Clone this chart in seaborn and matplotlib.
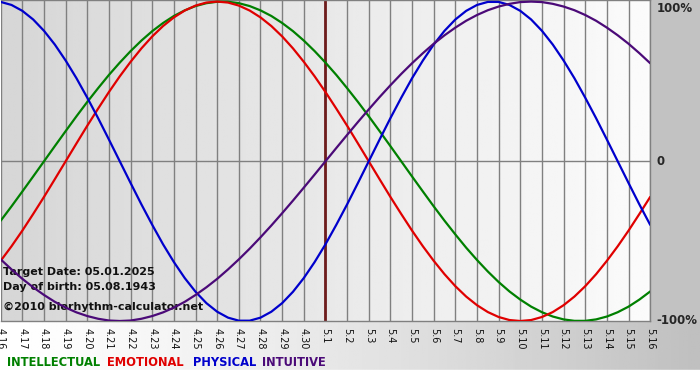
import numpy as np
import pandas as pd
import matplotlib
matplotlib.use('Agg')
import matplotlib.pyplot as plt
import seaborn as sns

# days shown on the x axis (April 16 .. May 16)
day_labels = ['4.16', '4.17', '4.18', '4.19', '4.20', '4.21', '4.22', '4.23', '4.24', '4.25',
              '4.26', '4.27', '4.28', '4.29', '4.30', '5.1', '5.2', '5.3', '5.4', '5.5',
              '5.6', '5.7', '5.8', '5.9', '5.10', '5.11', '5.12', '5.13', '5.14', '5.15', '5.16']
target_label = '5.1'

# cycle values in [-1, 1], every half day
intellectual = [-0.372, -0.282, -0.189, -0.095, 0.0, 0.095, 0.189, 0.282, 0.372, 0.458,
                0.541, 0.618, 0.690, 0.756, 0.815, 0.866, 0.910, 0.945, 0.972, 0.990,
                0.999, 0.999, 0.990, 0.972, 0.945, 0.910, 0.866, 0.815, 0.756, 0.690,
                0.618, 0.541, 0.458, 0.372, 0.282, 0.189, 0.095, 0.0, -0.095, -0.189,
                -0.282, -0.372, -0.458, -0.541, -0.618, -0.690, -0.756, -0.815, -0.866, -0.910,
                -0.945, -0.972, -0.990, -0.999, -0.999, -0.990, -0.972, -0.945, -0.910, -0.866,
                -0.815]
emotional = [-0.623, -0.532, -0.434, -0.330, -0.223, -0.112, 0.0, 0.112, 0.223, 0.330,
             0.434, 0.532, 0.623, 0.707, 0.782, 0.847, 0.901, 0.944, 0.975, 0.994,
             1.0, 0.994, 0.975, 0.944, 0.901, 0.847, 0.782, 0.707, 0.623, 0.532,
             0.434, 0.330, 0.223, 0.112, 0.0, -0.112, -0.223, -0.330, -0.434, -0.532,
             -0.623, -0.707, -0.782, -0.847, -0.901, -0.944, -0.975, -0.994, -1.0, -0.994,
             -0.975, -0.944, -0.901, -0.847, -0.782, -0.707, -0.623, -0.532, -0.434, -0.330,
             -0.223]
physical = [0.998, 0.979, 0.942, 0.888, 0.817, 0.731, 0.631, 0.520, 0.398, 0.270,
            0.136, 0.0, -0.136, -0.270, -0.398, -0.520, -0.631, -0.731, -0.817, -0.888,
            -0.942, -0.979, -0.998, -0.998, -0.979, -0.942, -0.888, -0.817, -0.731, -0.631,
            -0.520, -0.398, -0.270, -0.136, 0.0, 0.136, 0.270, 0.398, 0.520, 0.631,
            0.731, 0.817, 0.888, 0.942, 0.979, 0.998, 0.998, 0.979, 0.942, 0.888,
            0.817, 0.731, 0.631, 0.520, 0.398, 0.270, 0.136, 0.0, -0.136, -0.270,
            -0.398]
intuitive = [-0.614, -0.677, -0.736, -0.789, -0.837, -0.880, -0.916, -0.946, -0.969, -0.986,
             -0.997, -1.0, -0.997, -0.986, -0.969, -0.946, -0.916, -0.880, -0.837, -0.789,
             -0.736, -0.677, -0.614, -0.547, -0.476, -0.402, -0.325, -0.246, -0.165, -0.083,
             0.0, 0.083, 0.165, 0.246, 0.325, 0.402, 0.476, 0.547, 0.614, 0.677,
             0.736, 0.789, 0.837, 0.880, 0.916, 0.946, 0.969, 0.986, 0.997, 1.0,
             0.997, 0.986, 0.969, 0.946, 0.916, 0.880, 0.837, 0.789, 0.736, 0.677,
             0.614]

cycle_names = ['INTELLECTUAL', 'EMOTIONAL', 'PHYSICAL', 'INTUITIVE']
cycle_colors = ['#008000', '#e00000', '#0000cc', '#4b0a78']

info_lines = ['Target Date: 05.01.2025', 'Day of birth: 05.08.1943', '\u00a92010 biorhythm-calculator.net']

sns.set_style('white')
plt.rcParams['font.family'] = ['DejaVu Sans']

W, H = 700, 380
fig = plt.figure(figsize=(W / 100, H / 100), dpi=100)

# figure background: horizontal white -> gray gradient, white strip at the very bottom
bg = fig.add_axes([0, 0, 1, 1], zorder=-5)
grad = np.linspace(0, 1, 256) ** 1.3
bg.imshow(np.tile(1.0 - 0.25 * grad, (2, 1)), cmap='gray', vmin=0, vmax=1,
          extent=[0, 1, 10 / H, 1], aspect='auto')
bg.add_patch(plt.Rectangle((0, 0), 1, 10 / H, color='white'))
bg.set_xlim(0, 1)
bg.set_ylim(0, 1)
bg.axis('off')

# right margin solid gray
fig.patches.append(plt.Rectangle((651 / W, 1 - 321 / H), 1 - 651 / W, 321 / H,
                                 transform=fig.transFigure, color='#c2c2c2', zorder=-4))

ax = fig.add_axes([0.7 / W, 1 - 321 / H, 649.5 / W, 321 / H])
ax.set_facecolor('none')

n = len(day_labels)
days = np.arange(n)
half_days = np.arange(0, n - 0.75, 0.5)
ax.set_xlim(0, n - 1)
ax.set_ylim(-1, 1.01)

# plot area gradient: darker left, lighter right
ax.imshow(np.tile(np.linspace(0.84, 0.985, 256), (2, 1)), cmap='gray', vmin=0, vmax=1,
          extent=[0, n - 1, -1, 1.01], aspect='auto', zorder=0)

for d in days:
    ax.axvline(d, color='#808080', lw=1, zorder=1)
ax.axhline(0, color='#808080', lw=1, zorder=1)
ax.axvline(day_labels.index(target_label), color='#6e1c1c', lw=2, zorder=2)

# info text inside the plot, under the curves
for txt, ypx in zip(info_lines, [272, 287, 307]):
    ax.text(3 / W, 1 - ypx / H, txt, transform=fig.transFigure, ha='left', va='center',
            fontsize=8, fontweight='bold', color='#111111', zorder=2.5)

df = pd.DataFrame({
    'day': np.tile(half_days, 4),
    'value': intellectual + emotional + physical + intuitive,
    'cycle': np.repeat(cycle_names, len(half_days)),
})
sns.lineplot(data=df, x='day', y='value', hue='cycle', hue_order=cycle_names,
             palette=dict(zip(cycle_names, cycle_colors)), linewidth=1.6,
             legend=False, ax=ax, zorder=3)

ax.set_xticks(days)
ax.set_xticklabels(day_labels, rotation=270, fontsize=7, color='#111111')
ax.tick_params(axis='x', length=3, width=1, color='#808080', pad=2)
ax.set_yticks([])
ax.set_xlabel('')
ax.set_ylabel('')
for side in ['top', 'bottom', 'right']:
    ax.spines[side].set_color('#808080')
    ax.spines[side].set_linewidth(1)
ax.spines['left'].set_visible(False)

# right side percentage labels
ytr = ax.get_yaxis_transform()
ax.text(1.01, 1.0, '100%', transform=ytr, ha='left', va='top', fontsize=8.5,
        fontweight='bold', clip_on=False)
ax.text(1.01, 0.0, '0', transform=ytr, ha='left', va='center', fontsize=8.5,
        fontweight='bold', clip_on=False)
ax.text(1.01, -1.0, '-100%', transform=ytr, ha='left', va='center', fontsize=8.5,
        fontweight='bold', clip_on=False)

# colored legend at the bottom
for name, col, xpx in zip(cycle_names, cycle_colors, [7, 107, 193, 262]):
    fig.text(xpx / W, 1 - 362 / H, name, ha='left', va='center', fontsize=8.3,
             fontweight='bold', color=col)

fig.savefig('out.png', dpi=100)
plt.close(fig)
